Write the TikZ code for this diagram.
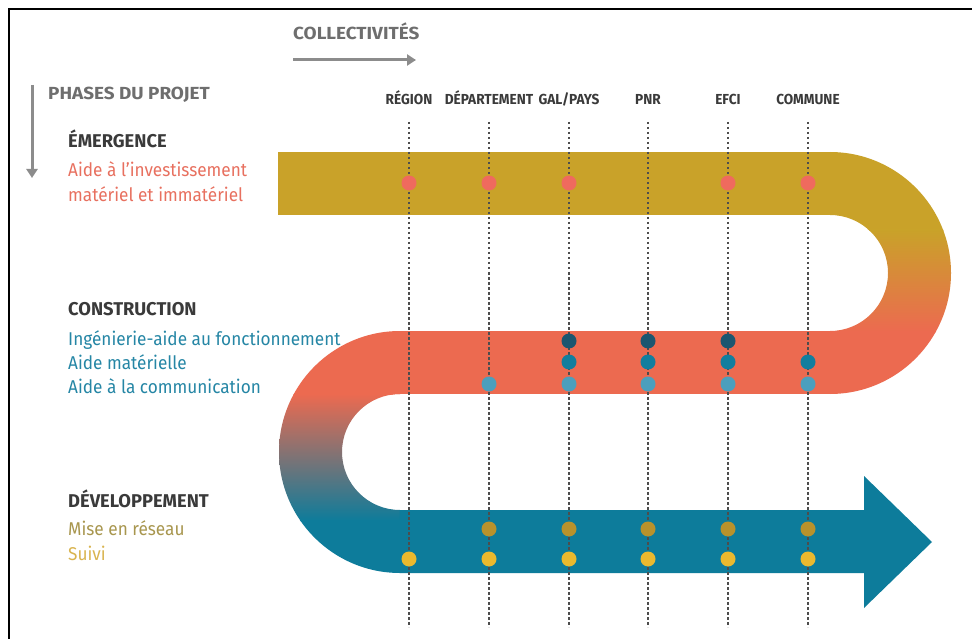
\documentclass[tikz,border=0pt]{standalone}
\usepackage{fontspec}
\setmainfont{Fira Sans}[FakeStretch=0.93]
\newfontfamily\headerfont{Fira Sans}[FakeStretch=1.08]
\newfontfamily\phasefont{Fira Sans}[FakeStretch=0.99]
\newfontfamily\columnfont{Fira Sans}[FakeStretch=0.94]
\usetikzlibrary{arrows.meta}

\definecolor{mustard}{HTML}{C9A229}
\definecolor{coralband}{HTML}{EC6A50}
\definecolor{tealband}{HTML}{0D7C9B}
\definecolor{guide}{HTML}{4D4D4D}
\definecolor{headgray}{HTML}{3A3A3A}
\definecolor{labelgray}{HTML}{6E6E6E}
\definecolor{arrowgray}{HTML}{8C8C8C}
\definecolor{investtxt}{HTML}{E8705F}
\definecolor{constrtxt}{HTML}{2586A5}
\definecolor{reseautxt}{HTML}{A8964E}
\definecolor{suivitxt}{HTML}{D9B44F}
\definecolor{dotinvest}{HTML}{EF6A5E}
\definecolor{dotdark}{HTML}{1B5670}
\definecolor{dotmid}{HTML}{127E9E}
\definecolor{dotlight}{HTML}{4C9FBD}
\definecolor{dotolive}{HTML}{B8922C}
\definecolor{dotyellow}{HTML}{EBB92E}

\tikzset{
  toplabel/.style={anchor=base west, inner sep=0pt, text=labelgray,
    font=\headerfont\bfseries\fontsize{17.5}{17.5}\selectfont},
  phase/.style={anchor=base west, inner sep=0pt, text=headgray,
    font=\phasefont\bfseries\fontsize{18.5}{18.5}\selectfont},
  item/.style={anchor=base west, inner sep=0pt,
    font=\fontsize{18.5}{18.5}\selectfont},
  collabel/.style={anchor=base, inner sep=0pt, text=headgray,
    font=\columnfont\bfseries\fontsize{14.5}{14.5}\selectfont},
  guideline/.style={draw=guide, line width=1.1pt, dash pattern=on 2.5pt off 2.5pt},
  graybar/.style={draw=arrowgray, line width=3pt,
    -{Triangle[length=9pt,width=11pt]}},
  dot/.style={radius=7.5},
}

\begin{document}
\begin{tikzpicture}[x=1pt,y=-1pt]
\useasboundingbox (0,0) rectangle (972,639);
\fill[white] (0,0) rectangle (972,639);

% frame edges
\draw[line width=2.5pt] (9,639) -- (9,9) -- (972,9);

% axis headers
\node[toplabel] (coll) at (293,40) {COLLECTIVITÉS};
\coordinate (collA) at (293,60);
\coordinate (collB) at (416,60);
\draw[graybar] (collA) -- (collB);

\node[toplabel] (phases) at (48,100) {PHASES DU PROJET};
\coordinate (phA) at (32,85);
\coordinate (phB) at (32,178);
\draw[graybar] (phA) -- (phB);

% ---------- the S-shaped band ----------
% top straight part
\fill[mustard] (278,152) rectangle (830.5,215);
% right bend: mustard to coral
\begin{scope}
  \clip (830,152) .. controls (896.8,152) and (951,206.2) .. (951,273)
        .. controls (951,339.8) and (896.8,394) .. (830,394)
        -- (830,331) .. controls (862,331) and (888,305) .. (888,273)
        .. controls (888,241) and (862,215) .. (830,215) -- cycle;
  \fill[mustard] (820,140) rectangle (960,231);
  \shade[top color=mustard, bottom color=coralband] (820,230) rectangle (960,332);
  \fill[coralband] (820,331) rectangle (960,400);
\end{scope}
% middle straight part
\fill[coralband] (399.5,331) rectangle (830.5,394);
% left bend: coral to teal
\begin{scope}
  \clip (400,331) .. controls (333.2,331) and (279,385.2) .. (279,452)
        .. controls (279,518.8) and (333.2,573) .. (400,573)
        -- (400,510) .. controls (368,510) and (342,484) .. (342,452)
        .. controls (342,420) and (368,394) .. (400,394) -- cycle;
  \fill[coralband] (270,320) rectangle (410,395);
  \shade[top color=coralband, bottom color=tealband] (270,394) rectangle (410,521);
  \fill[tealband] (270,520) rectangle (410,580);
\end{scope}
% bottom straight part with arrow head
\fill[tealband] (399.5,510) -- (864,510) -- (864,476) -- (932,542)
  -- (864,608) -- (864,573) -- (399.5,573) -- cycle;

% ---------- columns ----------
\foreach \name/\x/\txt in {reg/409/{RÉGION}, dep/489/{DÉPARTEMENT},
    gal/569/{GAL/PAYS}, pnr/648/{PNR}, efci/728/{EFCI}, com/808/{COMMUNE}}{
  \node[collabel] (\name) at (\x,105) {\txt};
  \coordinate (\name top) at (\x,122);
  \coordinate (\name bot) at (\x,627);
  \draw[guideline] (\name top) -- (\name bot);
}

% ---------- phases and actions ----------
\node[phase] (emer) at (68,148) {ÉMERGENCE};
\node[item, text=investtxt] (inv1) at (68,177) {Aide à l’investissement};
\node[item, text=investtxt] (inv2) at (68,202) {matériel et immatériel};

\node[phase] (cons) at (68,315) {CONSTRUCTION};
\node[item, text=constrtxt] (ing) at (68,345) {Ingénierie-aide au fonctionnement};
\node[item, text=constrtxt] (mat) at (68,369) {Aide matérielle};
\node[item, text=constrtxt] (comm) at (68,393) {Aide à la communication};

\node[phase] (dev) at (68,507) {DÉVELOPPEMENT};
\node[item, text=reseautxt] (res) at (68,535) {Mise en réseau};
\node[item, text=suivitxt] (suivi) at (68,560) {Suivi};

% ---------- markers ----------
\foreach \x in {409,489,569,728,808}
  \fill[dotinvest] (\x,183) circle[dot];
\foreach \x in {569,648,728}
  \fill[dotdark] (\x,341) circle[dot];
\foreach \x in {569,648,728,808}
  \fill[dotmid] (\x,362) circle[dot];
\foreach \x in {489,569,648,728,808}
  \fill[dotlight] (\x,384) circle[dot];
\foreach \x in {489,569,648,728,808}
  \fill[dotolive] (\x,529) circle[dot];
\foreach \x in {409,489,569,648,728,808}
  \fill[dotyellow] (\x,559) circle[dot];
\end{tikzpicture}
\end{document}
